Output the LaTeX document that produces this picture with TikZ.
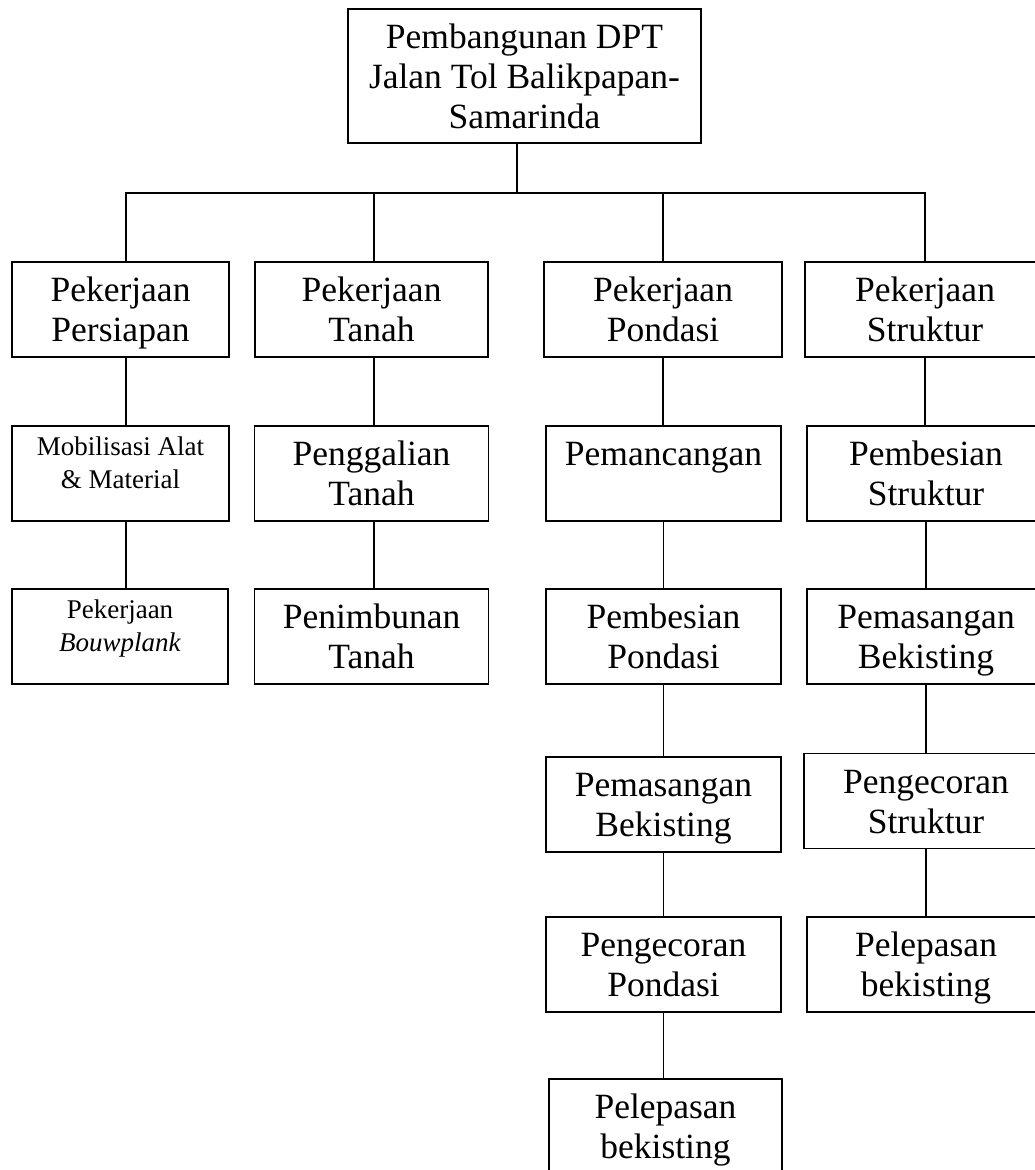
\documentclass[tikz,border=0pt]{standalone}
\usepackage{fontspec}
\setmainfont{Liberation Serif}
\newcommand{\tinggi}{\rule{0pt}{36pt}}
\newcommand{\dalam}{\rule[-12pt]{0pt}{12pt}}
\newcommand{\tinggik}{\rule{0pt}{23pt}}
\newcommand{\dalamk}{\rule[-27pt]{0pt}{27pt}}

\begin{document}
\begin{tikzpicture}[x=1pt,y=-1pt,
    kotak/.style={draw,line width=1.6pt,align=center,inner sep=0pt,minimum height=95},
    box/.style={kotak,font=\fontsize{35.5}{40}\selectfont},
    kecil/.style={kotak,font=\fontsize{27}{33}\selectfont},
    garis/.style={line width=1.6pt}]
    \useasboundingbox (0,0) rectangle (1035,1170);
    \clip (0,0) rectangle (1035,1170);
    \node[box,minimum width=353,minimum height=134] (top) at (524.5,76) {\tinggi Pembangunan DPT\\Jalan Tol Balikpapan-\\Samarinda\dalam};
    \node[box,minimum width=217] (per) at (120.5,309.5) {\tinggi Pekerjaan\\Persiapan\dalam};
    \node[box,minimum width=233] (tan) at (371.5,309.5) {\tinggi Pekerjaan\\Tanah\dalam};
    \node[box,minimum width=238] (pon) at (663,309.5) {\tinggi Pekerjaan\\Pondasi\dalam};
    \node[box,minimum width=240] (str) at (925,309.5) {\tinggi Pekerjaan\\Struktur\dalam};
    \node[kecil,minimum width=217] (mob) at (120.5,473.5) {\tinggik Mobilisasi Alat\\\& Material\dalamk};
    \node[box,minimum width=234] (gal) at (371.5,473.5) {\tinggi Penggalian\\Tanah\dalam};
    \node[box,minimum width=235] (pan) at (663.5,473.5) {\tinggi Pemancangan\\\dalam};
    \node[box,minimum width=238] (bst) at (926,473.5) {\tinggi Pembesian\\Struktur\dalam};
    \node[kecil,minimum width=216] (bow) at (120,636.5) {\tinggik Pekerjaan\\\textit{Bouwplank}\dalamk};
    \node[box,minimum width=234] (tim) at (371.5,636.5) {\tinggi Penimbunan\\Tanah\dalam};
    \node[box,minimum width=235] (bpo) at (663.5,636.5) {\tinggi Pembesian\\Pondasi\dalam};
    \node[box,minimum width=238] (pbk) at (926,636.5) {\tinggi Pemasangan\\Bekisting\dalam};
    \node[box,minimum width=235] (mbk) at (663.5,804.5) {\tinggi Pemasangan\\Bekisting\dalam};
    \node[box,minimum width=244] (cst) at (926,801) {\tinggi Pengecoran\\Struktur\dalam};
    \node[box,minimum width=235] (cpo) at (663.5,964.5) {\tinggi Pengecoran\\Pondasi\dalam};
    \node[box,minimum width=238] (lst) at (926,964.5) {\tinggi Pelepasan\\bekisting\dalam};
    \node[box,minimum width=233] (lpo) at (665.5,1126.5) {\tinggi Pelepasan\\bekisting\dalam};
    \coordinate (bus) at (517,193);
    \draw[garis] ([xshift=-7.5]top.south) -- (bus);
    \draw[garis] (bus) -| ([xshift=5.5]per.north);
    \draw[garis] (bus) -| ([xshift=2.5]tan.north);
    \draw[garis] (bus) -| (pon.north);
    \draw[garis] (bus) -| (str.north);
    \foreach \a/\b in {per/mob,mob/bow}
        \draw[garis] ([xshift=5.5]\a.south) -- ([xshift=5.5]\a.south |- \b.north);
    \foreach \a/\b in {tan/gal,gal/tim}
        \draw[garis] ([xshift=2.5]\a.south) -- ([xshift=2.5]\a.south |- \b.north);
    \foreach \a/\b in {pon/pan,pan/bpo,bpo/mbk,mbk/cpo,cpo/lpo,str/bst,bst/pbk,pbk/cst,cst/lst}
        \draw[garis] (\a.south) -- (\a.south |- \b.north);
\end{tikzpicture}
\end{document}
